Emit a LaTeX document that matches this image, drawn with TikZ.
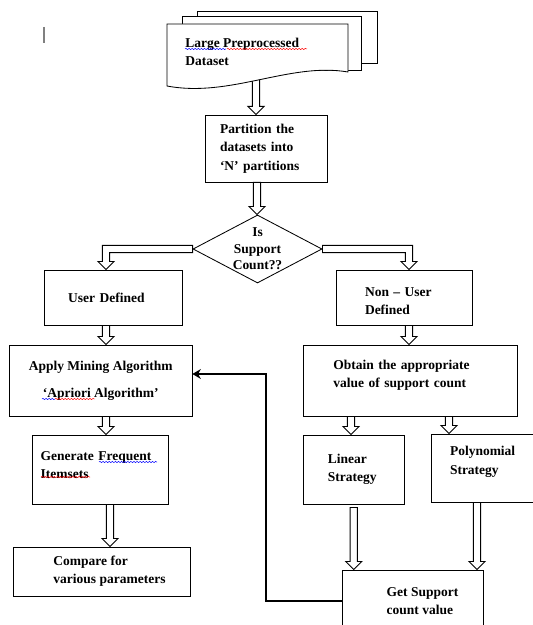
\documentclass[tikz,border=0pt]{standalone}
\usepackage{fontspec}
\setmainfont{Liberation Serif}
\usetikzlibrary{calc,shapes.geometric,arrows.meta,decorations.pathmorphing}

\begin{document}
\begin{tikzpicture}[x=0.25mm, y=-0.25mm, font=\bfseries\fontsize{9.6}{13}\selectfont]
%styles
\tikzstyle{box}=[rectangle, draw, line width=0.6pt, fill=white, inner sep=0pt, align=left, text=black]
\tikzstyle{decision}=[diamond, draw, line width=0.6pt, fill=white, inner sep=0pt, minimum width=32.25mm, minimum height=17mm]
\tikzstyle{blockarrow}=[draw, fill=white, line width=0.6pt, to path={let \p1=(\tikztostart), \p2=(\tikztotarget) in ({\x1-2.6pt},\y1) -- ({\x1-2.6pt},{\y2+5.8pt}) -- ({\x1-5.8pt},{\y2+5.8pt}) -- (\x1,\y2) -- ({\x1+5.8pt},{\y2+5.8pt}) -- ({\x1+2.6pt},{\y2+5.8pt}) -- ({\x1+2.6pt},\y1) -- cycle}]
\tikzstyle{elbowarrow}=[draw, fill=white, line width=0.6pt, to path={let \p1=(\tikztostart), \p2=(\tikztotarget), \n1={sign(\x2-\x1)} in (\x1,{\y1+2.6pt}) -- ({\x2+(\n1)*2.6pt},{\y1+2.6pt}) -- ({\x2+(\n1)*2.6pt},{\y2+5.8pt}) -- ({\x2+(\n1)*5.8pt},{\y2+5.8pt}) -- (\x2,\y2) -- ({\x2-(\n1)*5.8pt},{\y2+5.8pt}) -- ({\x2-(\n1)*2.6pt},{\y2+5.8pt}) -- ({\x2-(\n1)*2.6pt},{\y1-2.6pt}) -- (\x1,{\y1-2.6pt}) -- cycle}]
\tikzstyle{feedback}=[line width=1.4pt, -{Stealth[length=6pt,width=7pt]}]
\tikzstyle{spell}=[decorate, decoration={snake, amplitude=0.45pt, segment length=2.2pt}, line width=0.35pt]

\useasboundingbox (0,0) rectangle (532,625);

%cursor mark
\draw[gray, line width=1.2pt] (44,27) -- (44,43);

%partition and dataset pages
\node[box, minimum width=30.5mm, minimum height=16.75mm, text width=23mm] (part) at (266,148.5) {Partition the\\datasets into\\‘N’ partitions};
\coordinate (docb) at (256,76);
\draw[blockarrow] (docb) to (part.north);
\draw[line width=0.6pt, fill=white] (197,11) rectangle (377,63);
\draw[line width=0.6pt, fill=white] (182,16) rectangle (361,70);
\draw[line width=0.6pt, fill=white] (167,24) -- (348,24) -- (348,72) .. controls (290,62) and (230,98) .. (167,86) -- cycle;
\node[anchor=west, align=left, inner sep=0pt] (doc) at (185,52) {Large Preprocessed\\Dataset};

%decision
\node[decision, label={[name=qtext, align=center, font=\bfseries\fontsize{9.6}{11.8}\selectfont]center:Is\\Support\\Count??}] (q) at (257.5,249) {};
\draw[blockarrow] (257,0 |- part.south) to (q.north);

%boxes
\node[box, minimum width=34.6mm, minimum height=13.75mm, text width=22.6mm] (ud) at (113.25,297.5) {User Defined};
\node[box, minimum width=34mm, minimum height=13.75mm, text width=19.5mm, text depth=8pt] (nud) at (404,297.5) {Non – User\\Defined};
\node[box, minimum width=45.6mm, minimum height=17.75mm, align=center] (apply) at (100.75,380.5) {Apply Mining Algorithm\\[6pt]‘Apriori Algorithm’};
\node[box, minimum width=53.4mm, minimum height=17.75mm, text width=38.4mm, text depth=22pt] (obtain) at (410.25,380.5) {Obtain the appropriate\\value of support count};
\node[box, minimum width=33.9mm, minimum height=17.25mm, text width=29.75mm, text depth=19pt] (gen) at (100.2,469.5) {Generate Frequent\\Itemsets};
\node[box, minimum width=44.25mm, minimum height=12.25mm] (cmp) at (101.5,571.5) {\hspace*{4mm}Compare for\\\hspace*{4mm}various parameters};
\node[box, minimum width=25.1mm, minimum height=17.25mm, text width=12.9mm] (lin) at (353.75,469.5) {Linear\\Strategy};
\node[box, minimum width=26mm, minimum height=17mm, text width=16.5mm, text depth=24pt] (poly) at (483,468) {Polynomial\\Strategy};
\node[box, minimum width=35.25mm, minimum height=15.5mm] (get) at (412.5,601) {\hspace*{5mm}Get Support\\\hspace*{5mm}count value};

%hollow arrows
\draw[elbowarrow] (q.west) to (106,0 |- ud.north);
\draw[elbowarrow] (q.east) to (409,0 |- nud.north);
\draw[blockarrow] (106,0 |- ud.south) to (apply.north);
\draw[blockarrow] (409,0 |- nud.south) to (obtain.north);
\draw[blockarrow] (106,0 |- apply.south) to (gen.north);
\draw[blockarrow] (110,0 |- gen.south) to (cmp.north);
\draw[blockarrow] (351,0 |- obtain.south) to (lin.north);
\draw[blockarrow] (449,0 |- obtain.south) to (poly.north);
\draw[blockarrow] ([yshift=-0.75mm]lin.south) to (get.north);
\draw[blockarrow] (477,0 |- poly.south) to (get.north);

%feedback loop
\coordinate (fb) at (266,374);
\draw[feedback] (get.west) -| (fb) -- (apply.east |- fb);

%spelling marks
\draw[spell, blue] (185,49) -- (226,49);
\draw[spell, red] (227,49) -- (307,49);
\draw[spell, blue] (42,399) -- (55,399);
\draw[spell, red] (55,399) -- (95,399);
\draw[spell, blue] (99,462) -- (157,462);
\draw[spell, red] (41,477) -- (90,477);
\end{tikzpicture}
\end{document}
